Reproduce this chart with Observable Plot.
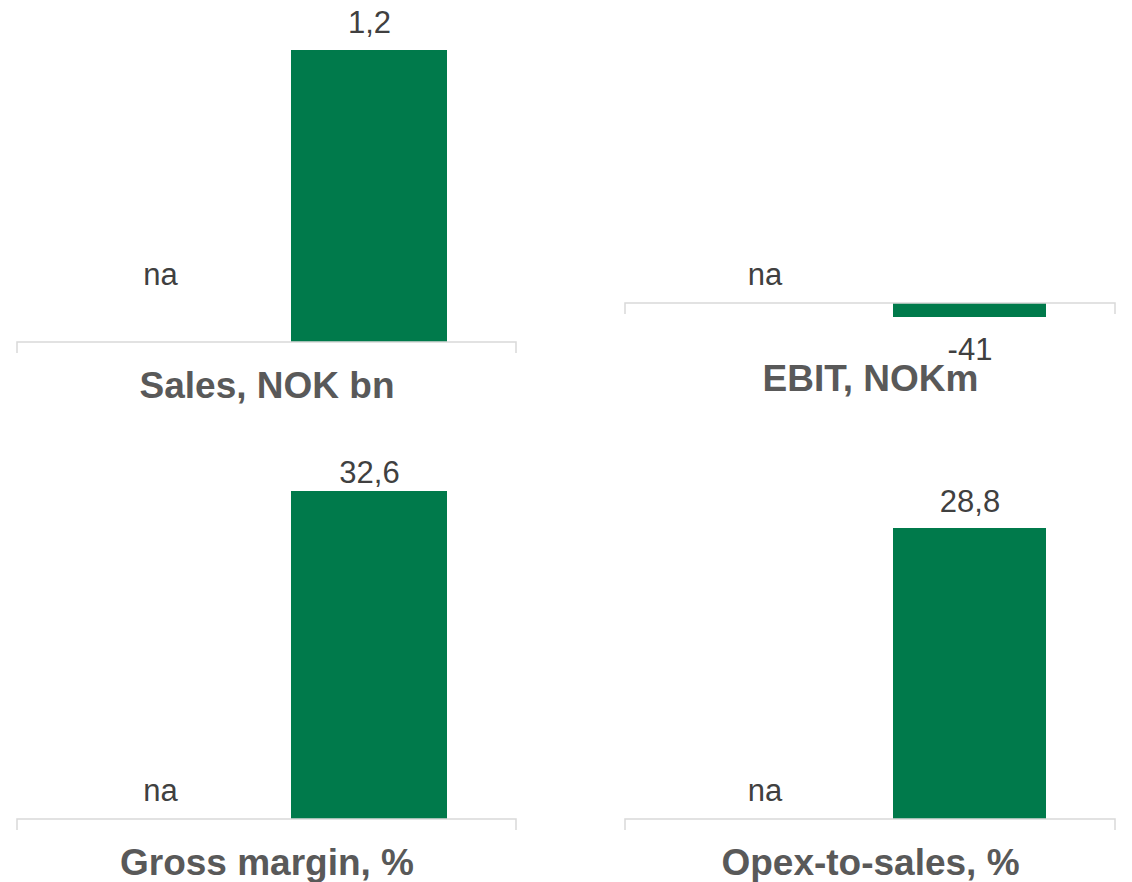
<!DOCTYPE html>
<html>
<head>
<meta charset="utf-8">
<script src="https://cdn.jsdelivr.net/npm/d3@7"></script>
<script src="https://cdn.jsdelivr.net/npm/@observablehq/plot@0.6"></script>
<style>
  html, body { margin: 0; padding: 0; background: #ffffff; }
  #chart { position: relative; width: 1132px; height: 882px; overflow: hidden; background: #ffffff; }
  #chart > div { position: absolute; }
</style>
</head>
<body>
<div id="chart"></div>
<script>
// ---- Data ----
const periods = ["Previous", "Current"];            // hidden category axis
const metrics = ["Sales, NOK bn", "EBIT, NOKm", "Gross margin, %", "Opex-to-sales, %"];
const previousValues = [null, null, null, null];      // shown as "na"
const currentValues = [1.2, -41, 32.6, 28.8];
const decimals = [1, 0, 1, 1];

// ---- Layout (per panel) ----
const panelLayout = [
  {left: 0,   top: 0,   mL: 17, mR: 50, mT: 50,  mB: 99,  xr: [82, 447],  pi: 0.2536, labelDy: -18, naDy: -58, titleDy: 55},
  {left: 566, top: 0,   mL: 59, mR: 17, mT: 303, mB: 124, xr: [121, 481], pi: 0.2524, labelDy: 42,  naDy: -19, titleDy: 73},
  {left: 0,   top: 441, mL: 17, mR: 50, mT: 50,  mB: 63,  xr: [82, 447],  pi: 0.2536, labelDy: -9,  naDy: -19, titleDy: 55},
  {left: 566, top: 441, mL: 59, mR: 17, mT: 87,  mB: 63,  xr: [121, 481], pi: 0.2524, labelDy: -17, naDy: -19, titleDy: 55}
];

const green = "#007a4b";
const valueColor = "#404040";
const titleColor = "#595959";
const axisColor = "#d9d9d9";
const font = "'Liberation Sans', Arial, sans-serif";

const locale = d3.formatLocale({decimal: ",", thousands: " ", grouping: [3], currency: ["", " kr"], minus: "-"});

function baseAxis(index, scales, values, dims) {
  const y0 = scales.y(0);
  const x0 = dims.marginLeft, x1 = dims.width - dims.marginRight;
  const tick = 11;
  const g = d3.create("svg:g");
  g.append("path")
    .attr("d", `M${x0},${y0 + tick}V${y0}H${x1}V${y0 + tick}`)
    .attr("fill", "none")
    .attr("stroke", axisColor)
    .attr("stroke-width", 1.5);
  return g.node();
}

const chart = document.getElementById("chart");

metrics.forEach((metric, i) => {
  const L = panelLayout[i];
  const rows = [
    {period: periods[0], value: previousValues[i]},
    {period: periods[1], value: currentValues[i]}
  ];
  const present = rows.filter(d => d.value != null);
  const missing = rows.filter(d => d.value == null);
  const vals = present.map(d => d.value);
  const fmt = locale.format(`.${decimals[i]}f`);

  const plot = Plot.plot({
    width: 566,
    height: 441,
    marginLeft: L.mL,
    marginRight: L.mR,
    marginTop: L.mT,
    marginBottom: L.mB,
    style: {fontFamily: font, background: "transparent", overflow: "visible"},
    x: {type: "band", domain: periods, range: L.xr, paddingInner: L.pi, paddingOuter: 0, axis: null},
    y: {domain: [Math.min(0, d3.min(vals)), Math.max(0, d3.max(vals))], axis: null},
    marks: [
      Plot.barY(present, {x: "period", y: "value", fill: green}),
      baseAxis,
      Plot.text(present, {
        x: "period", y: "value", text: d => fmt(d.value),
        dy: L.labelDy, lineAnchor: "bottom", fontSize: 31, fill: valueColor
      }),
      Plot.text(missing, {
        x: "period", y: () => 0, text: () => "na",
        dy: L.naDy, lineAnchor: "bottom", fontSize: 31, fill: valueColor
      }),
      Plot.text([metric], {
        frameAnchor: "bottom", text: d => d, dy: L.titleDy, lineAnchor: "bottom",
        fontSize: 37, fontWeight: "bold", fill: titleColor
      })
    ]
  });

  const holder = document.createElement("div");
  holder.style.left = L.left + "px";
  holder.style.top = L.top + "px";
  holder.appendChild(plot);
  chart.appendChild(holder);
});
</script>
</body>
</html>
